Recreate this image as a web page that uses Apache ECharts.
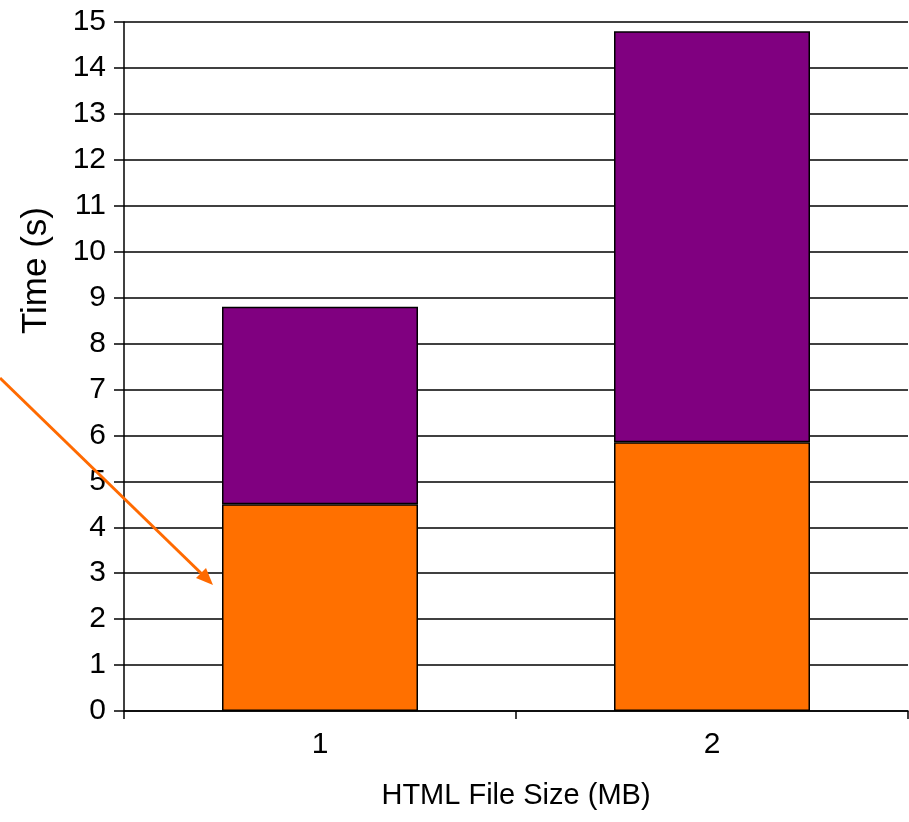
<!DOCTYPE html>
<html>
<head>
<meta charset="utf-8">
<script src="https://cdn.jsdelivr.net/npm/echarts@6/dist/echarts.min.js"></script>
<style>
  html, body { margin: 0; padding: 0; background: #fff; }
  #chart { width: 909px; height: 822px; }
</style>
</head>
<body>
<div id="chart"></div>
<script>
// data
const categories = ['1', '2']
const lowerPart = [4.5, 5.85]   // orange
const upperPart = [4.3, 8.95]   // purple
const yTicks = { min: 0, max: 15, interval: 1 }

const font = 'Liberation Sans, Arial, sans-serif'

const chart = echarts.init(document.getElementById('chart'))

const option = {
  animation: false,
  backgroundColor: '#fff',
  grid: {
    left: 124,
    right: 1,
    top: 22,
    bottom: 111,
    containLabel: false
  },
  xAxis: {
    type: 'category',
    data: categories,
    name: 'HTML File Size (MB)',
    nameLocation: 'middle',
    nameGap: 70,
    nameTextStyle: { fontFamily: font, fontSize: 29, color: '#000' },
    axisLine: { lineStyle: { color: '#000', width: 1.5 } },
    axisTick: { show: true, length: 8, lineStyle: { color: '#000', width: 1.5 } },
    axisLabel: { fontFamily: font, fontSize: 30, color: '#000', margin: 19 },
    splitLine: { show: false }
  },
  yAxis: {
    type: 'value',
    min: yTicks.min,
    max: yTicks.max,
    interval: yTicks.interval,
    name: 'Time (s)',
    nameLocation: 'middle',
    nameGap: 70,
    nameRotate: 90,
    // the title sits above the middle of the axis
    nameTextStyle: { fontFamily: font, fontSize: 35, color: '#000', padding: [0, 0, 0, 192] },
    axisLine: { show: true, lineStyle: { color: '#000', width: 1.5 } },
    axisTick: { show: true, length: 10, lineStyle: { color: '#000', width: 1.5 } },
    axisLabel: { fontFamily: font, fontSize: 30, color: '#000', margin: 18 },
    splitLine: { show: true, lineStyle: { color: '#000', width: 1.5 } }
  },
  series: [
    {
      name: 'lower',
      type: 'bar',
      stack: 'total',
      data: lowerPart,
      barWidth: '50%',
      itemStyle: { color: '#FF7000', borderColor: '#000', borderWidth: 1.5 }
    },
    {
      name: 'upper',
      type: 'bar',
      stack: 'total',
      data: upperPart,
      barWidth: '50%',
      itemStyle: { color: '#800080', borderColor: '#000', borderWidth: 1.5 }
    }
  ],
  // annotation arrow pointing at the first orange bar
  graphic: [
    {
      type: 'line',
      shape: { x1: 0, y1: 378, x2: 206, y2: 578 },
      style: { stroke: '#FF6A00', lineWidth: 3 },
      z: 100
    },
    {
      type: 'polygon',
      shape: { points: [[213, 585], [196, 578], [206, 568]] },
      style: { fill: '#FF6A00' },
      z: 100
    }
  ]
}

chart.setOption(option)
</script>
</body>
</html>
